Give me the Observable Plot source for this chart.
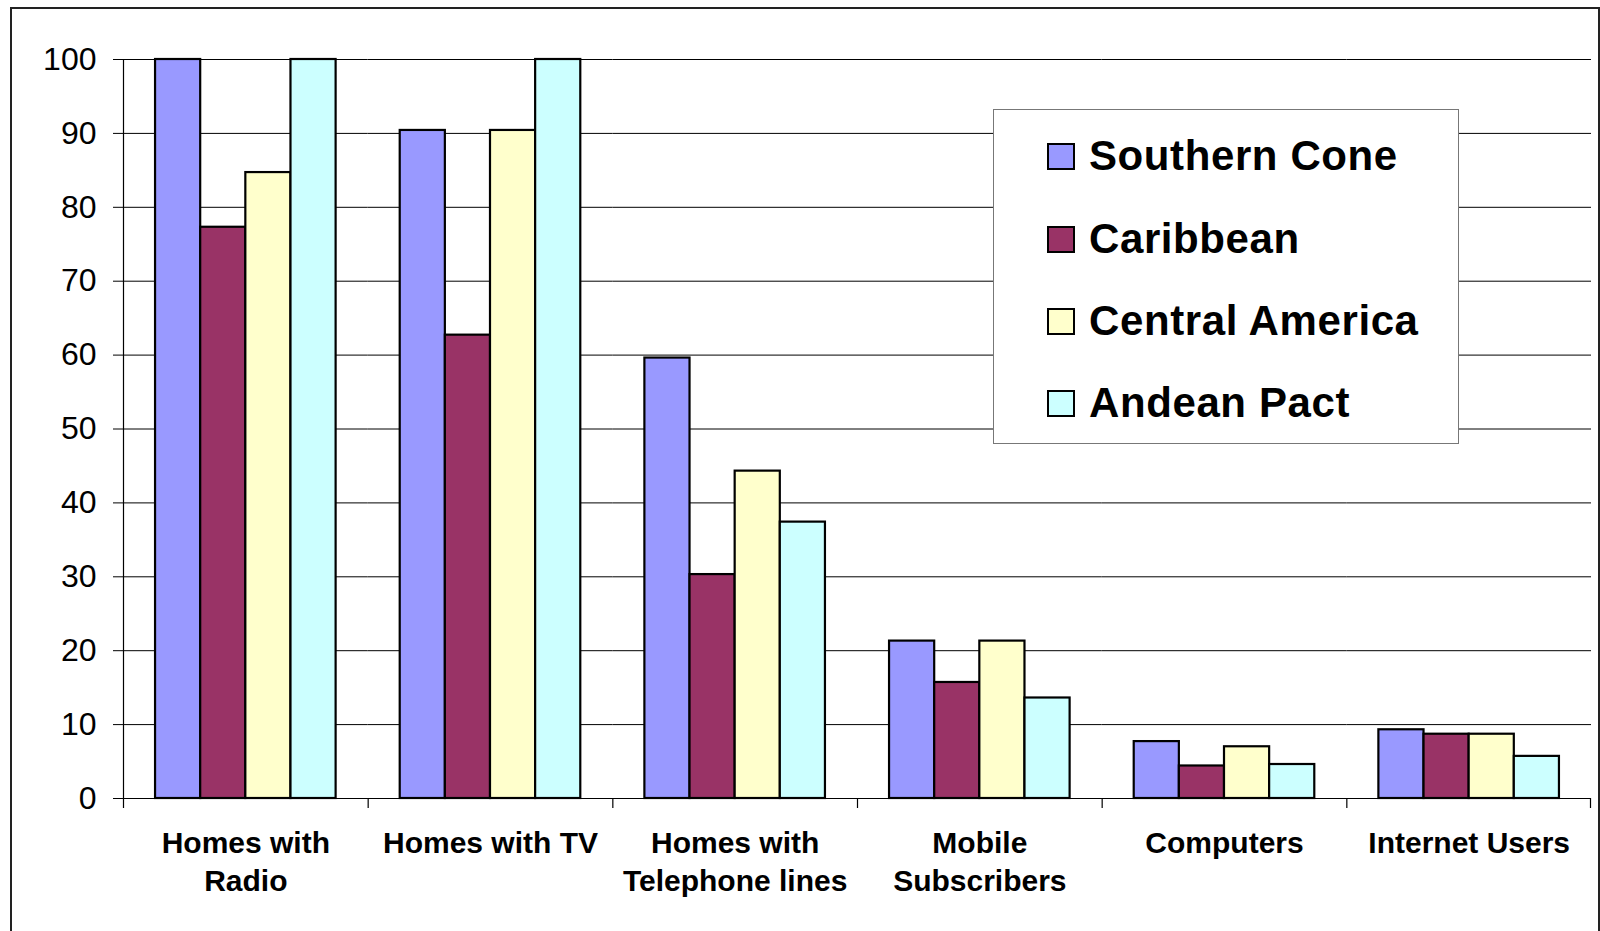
<!DOCTYPE html>
<html>
<head>
<meta charset="utf-8">
<script src="https://cdn.jsdelivr.net/npm/d3@7"></script>
<script src="https://cdn.jsdelivr.net/npm/@observablehq/plot@0.6"></script>
<style>
  html, body { margin: 0; padding: 0; background: #fff; overflow: hidden; }
  #wrap { position: relative; width: 1600px; height: 931px; font-family: "Liberation Sans", Arial, sans-serif; }
  #frame { position: absolute; left: 10px; top: 7px; width: 1590px; height: 950px; border: 2px solid #222; box-sizing: border-box; pointer-events: none; }
  #legend { position: absolute; left: 993px; top: 109px; width: 466px; height: 335px; box-sizing: border-box; border: 1.5px solid #777; background: #fff; }
  #legend .item { position: absolute; left: 53px; height: 40px; display: flex; align-items: center; }
  #legend .sw { width: 28px; height: 27px; box-sizing: border-box; border: 2px solid #000; margin-right: 14px; }
  #legend .lbl { font-size: 42px; font-weight: bold; letter-spacing: 0.6px; color: #000; }
</style>
</head>
<body>
<div id="wrap">
  <div id="chart"></div>
  <div id="legend"></div>
  <div id="frame"></div>
</div>
<script>
// Indicator categories along the bottom axis
const categories = ["Homes with Radio", "Homes with TV", "Homes with Telephone lines", "Mobile Subscribers", "Computers", "Internet Users"];
const categoryLabels = ["Homes with\nRadio", "Homes with TV", "Homes with\nTelephone lines", "Mobile\nSubscribers", "Computers", "Internet Users"];

// Regions (series) and their colours
const regions = ["Southern Cone", "Caribbean", "Central America", "Andean Pact"];
const regionColors = ["#9999ff", "#993366", "#ffffcc", "#ccffff"];

// Values per region, one per category
const southernCone   = [100, 90.4, 59.6, 21.3, 7.7, 9.3];
const caribbean      = [77.3, 62.7, 30.3, 15.7, 4.4, 8.7];
const centralAmerica = [84.7, 90.4, 44.3, 21.3, 7.0, 8.7];
const andeanPact     = [100, 100, 37.4, 13.6, 4.6, 5.7];

const yTicks = [0, 10, 20, 30, 40, 50, 60, 70, 80, 90, 100];

const seriesValues = [southernCone, caribbean, centralAmerica, andeanPact];
const rows = categories.flatMap((category, i) =>
  regions.map((region, j) => ({category, region, value: seriesValues[j][i]}))
);

// Per-facet axis decoration: baseline, category separator ticks,
// and the vertical y-axis line in the first facet. Coordinates are
// facet-local, so the facet's left edge sits at marginLeft.
let facetCall = 0;
function axisLines(index, scales, values, dims) {
  const fx = scales.fx, y = scales.y;
  const key = index && index.fx !== undefined ? index.fx : categories[facetCall++ % categories.length];
  const i = categories.indexOf(key);
  const bw = fx && fx.bandwidth ? fx.bandwidth()
    : (dims.width - dims.marginLeft - dims.marginRight) / categories.length;
  const left = dims.marginLeft, right = left + bw;
  const y0 = y(0), yTop = y(100);
  const g = d3.create("svg:g").attr("stroke", "#000").attr("fill", "none").attr("stroke-width", 1.2);
  g.append("line")
    .attr("x1", i === 0 ? left - 10 : left).attr("x2", right)
    .attr("y1", y0 + 0.5).attr("y2", y0 + 0.5);
  g.append("line")
    .attr("x1", left + 0.5).attr("x2", left + 0.5)
    .attr("y1", i === 0 ? yTop : y0).attr("y2", y0 + 10);
  if (i === categories.length - 1) {
    g.append("line")
      .attr("x1", right - 0.5).attr("x2", right - 0.5)
      .attr("y1", y0).attr("y2", y0 + 10);
  }
  return g.node();
}

const chart = Plot.plot({
  width: 1600,
  height: 931,
  marginLeft: 123,
  marginRight: 9,
  marginTop: 59,
  marginBottom: 133,
  style: {fontFamily: "'Liberation Sans', Arial, sans-serif", color: "#000", background: "transparent"},
  fx: {domain: categories, padding: 0, label: null, round: false},
  x: {domain: regions, paddingInner: 0, paddingOuter: 0.71, round: false, axis: null},
  y: {domain: [0, 100], label: null},
  color: {domain: regions, range: regionColors},
  marks: [
    Plot.gridY(yTicks, {stroke: "#000", strokeOpacity: 1, strokeWidth: 1}),
    Plot.barY(rows, {fx: "category", x: "region", y: "value", fill: "region", stroke: "#000", strokeWidth: 2.2, inset: 0}),
    Plot.axisY(yTicks, {tickSize: 10, tickPadding: 17, fontSize: 32, label: null}),
    Plot.axisFx({
      anchor: "bottom", tickSize: 0, tickPadding: 27, fontSize: 30, fontWeight: "bold",
      lineHeight: 1.28, label: null,
      tickFormat: c => categoryLabels[categories.indexOf(c)]
    }),
    axisLines
  ]
});
document.getElementById("chart").appendChild(chart);

// Legend box with one swatch per region
const legend = document.getElementById("legend");
const rowCenters = [46, 129, 211, 293];
regions.forEach((r, i) => {
  const item = document.createElement("div");
  item.className = "item";
  item.style.top = (rowCenters[i] - 20) + "px";
  const sw = document.createElement("div");
  sw.className = "sw";
  sw.style.background = regionColors[i];
  const lbl = document.createElement("span");
  lbl.className = "lbl";
  lbl.textContent = r;
  item.appendChild(sw);
  item.appendChild(lbl);
  legend.appendChild(item);
});
</script>
</body>
</html>
